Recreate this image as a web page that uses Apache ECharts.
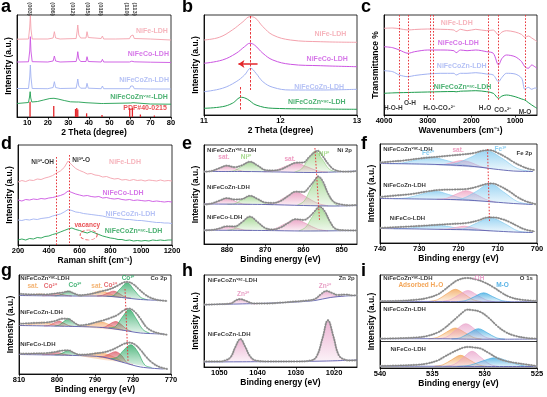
<!DOCTYPE html>
<html>
<head>
<meta charset="utf-8">
<script src="https://cdn.jsdelivr.net/npm/echarts@6/dist/echarts.min.js"></script>
<style>html,body{margin:0;padding:0;background:#fff}#main{width:547px;height:397px}</style>
</head>
<body>
<div id="main"></div>
<script>
var FONT = '"Liberation Sans", Arial, sans-serif';
var PINK = '#f4a2ad', MAG = '#cc55e2', BLUE = '#a2b2f2', GREEN = '#1f9e4f', RED = '#e3262b';

// a: XRD
var xrdNiFe = [[5,77.8],[10.6,78],[11.2,90],[11.5,102],[11.8,88],[12.4,78],[20,78],[22.6,79],[23.2,85.3],[23.8,79],[26,78],[33.8,78.5],[34.3,86],[34.6,92],[35.1,82],[36,79],[38.6,79],[39.1,85.3],[39.7,79.5],[46,78.5],[46.6,81],[47.2,78],[53,78],[59.8,78.3],[60.4,81],[60.9,79],[61.5,82],[62.1,78.5],[70,78],[80,77]];
var xrdNiFeCo = [[5,55],[10.6,55.2],[11.2,66],[11.5,80.3],[11.8,66],[12.4,55.3],[20,55],[22.6,56],[23.2,61],[23.8,56],[26,55],[33.8,55.5],[34.3,60],[34.6,65.3],[35.1,58],[36,55.5],[38.6,55.5],[39.1,60.3],[39.7,55.5],[46,55],[46.6,57.7],[47.2,55],[59.8,55],[60.4,57],[60.9,55.8],[61.5,57],[62.1,55.2],[70,54.8],[80,54.5]];
var xrdNiFeCoZn = [[5,28.5],[10.6,28.5],[11.2,40],[11.5,52],[11.8,40],[12.4,28.5],[20,28.3],[22.6,29.5],[23.2,35.3],[23.8,29.5],[26,28.5],[33.8,28.8],[34.3,34],[34.6,38],[35.1,31],[36,28.8],[38.6,28.8],[39.1,33.7],[39.7,28.8],[46,28.3],[46.6,31],[47.2,28.3],[59.8,28.3],[60.4,31],[60.9,29.3],[61.5,31],[62.1,28.3],[70,28],[80,28]];
var xrdVac = [[5,13.5],[10.6,14.5],[11.1,20],[11.4,25.3],[11.7,19],[12.2,15],[15,15.5],[18,17],[21,18.5],[23,18.7],[25,18],[28,16.5],[31,15.2],[33.8,15],[34.4,17],[35,15],[38.6,14.3],[39.1,15.2],[39.6,14.2],[46,13.5],[46.6,14.3],[47.2,13.5],[60.4,14],[61.5,14.3],[70,13],[80,12.8]];
var pdfPos = [11.35, 22.9, 33.5, 34.1, 34.6, 38.9, 46.4, 59.9, 61.2, 65.1, 71.9];
var pdfHeight = [15.3, 11, 8, 9, 7.5, 3.7, 2, 9, 9, 2.5, 1.5];
var millerPos = [11.3, 22.4, 32, 39.3, 45.5, 58.2, 62.2];
var millerText = ['(003)', '(006)', '(012)', '(015)', '(018)', '(110)', '(113)'];

// b: (003) peak zoom
var zoomNiFe = [[11.0,75],[11.2,77.7],[11.37,85],[11.51,93.3],[11.6,98.3],[11.66,97.5],[11.77,88.3],[11.9,80],[12.13,75],[12.52,73.3],[13.0,72.7]];
var zoomNiFeCo = [[11.0,51.7],[11.24,55],[11.42,61.7],[11.53,68.3],[11.6,71.7],[11.66,70],[11.77,61.7],[11.9,55],[12.13,50.7],[12.52,49.3],[13.0,48.3]];
var zoomNiFeCoZn = [[11.0,23.3],[11.24,26.7],[11.42,33.3],[11.53,40],[11.61,46.7],[11.68,41.7],[11.77,33.3],[11.9,27.7],[12.13,25],[12.52,25],[13.0,25.7]];
var zoomVac = [[11.0,6.7],[11.24,8.3],[11.37,11.7],[11.49,17.7],[11.57,15.7],[11.68,10],[11.9,6.7],[12.52,6],[13.0,5.7]];

// c: FTIR
var ftirWn = [4000,3800,3650,3450,3300,3000,2700,2400,2350,2250,2100,1900,1650,1500,1380,1300,1200,1000,850,780,700,620,550,500];
var ftirNiFe = [86.7,87,86.3,85,85.5,86,85.7,85,83.3,85.7,84.3,85.7,84.3,85,80,83,84.3,83,80.5,77.7,79,77,75,73.3];
var ftirNiFeCo = [68.3,67.3,65,61.7,63.3,65,65,64.3,62.3,65,64.3,65,63.3,61.7,50,56.7,60,58.3,53.3,48.3,46.7,50,48.3,46.7];
var ftirNiFeCoZn = [44.3,43.3,40,38.3,39.5,41,41.7,41.7,40,41.7,41.7,42.3,41,40,33.3,37.7,41.7,41,36.7,25.7,27.7,25.7,27,26.7];
var ftirVac = [21.7,22.1,22.3,22.5,22.7,23,23.3,23.5,23.2,23.8,24,24.3,23.3,21.7,16.7,19,20,18.3,16,15,12.5,10,8,6.7];
var ftirBands = [3650, 3440, 2940, 2880, 1620, 1390, 770];

// d: Raman
var ramanShift = [200,225,250,275,300,325,350,375,400,425,450,475,500,525,550,575,600,625,650,675,700,725,750,775,800,825,850,875,900,925,950,975,1000,1025,1050,1075,1100,1125,1150,1175,1200];
var ramanNiFe = [63,64.5,63.5,65,64.5,66,65.5,67,68,69.5,72,74,77.5,84,80,76.5,74.5,73,71,71.5,70,69.5,68,68.5,67,66,66.5,65,65.5,64.5,65.5,64.5,65,64,65,64.5,64,65,64,64.5,64];
var ramanNiFeCo = [45,44,45.5,45,46,45.5,46.5,46,47,47.5,48.5,49.5,51,54,52.5,51,50,49,49.5,48.5,48,48.5,47,47.5,46.5,46,46.5,45.5,45,45.5,44.5,45,44.5,44,44.5,43.5,44,43.5,43,43.5,43];
var ramanNiFeCoZn = [25,24.5,25.5,25,26,25.5,26.5,27,27.5,29,30,31,33,35.5,34.5,33,32.5,31.5,31,30.5,30,29.5,29,28,27.5,27,26.5,26,25.5,25.5,25,24.5,24.5,24,23.5,23,22.5,22.5,22,22,21.5];
var ramanVac = [5,6,5,6.5,6,7.5,7,8.5,9,10.5,11.5,13,14.5,16,17,15.5,14.5,13,12,13.5,12,10.5,9,8,7,6.5,5.5,5.5,4.5,5,4,4.5,4,4.5,4,5,4.5,5,4.5,5,5];

// e: Ni 2p
var eVacEnv = [[886,72.3],[884,73],[882,75.8],[880,78.3],[878,76.8],[876,78.8],[874,82.2],[872,78.5],[870,74],[868,73.5],[866,74.5],[864,78],[862,81.2],[860,81.5],[858.5,87],[857,92],[856.3,93.2],[855,88],[853.5,80],[852,74.5],[850,72.5],[848,72.3],[846,73]];
var eVacBg = [[886,72.5],[876,72.5],[866,72],[858,71.5],[852,72],[846,73]];
var eVacSat1 = [[886,72.5],[884,72.8],[882,75.6],[880,78],[878,75.6],[876,72.8],[874,72.4]];
var eVacNiA = [[880,72.4],[878,73.4],[876,78],[874,82],[872,78],[870,73.4],[868,72.2]];
var eVacSat2 = [[870.4,72.2],[867.6,73.3],[864.8,77.4],[862,81],[859.2,77.4],[856.4,73.3],[853.6,71.8]];
var eVacNiB = [[862.3,72],[860.5,75],[858.7,84.8],[856.9,93],[855.1,84.8],[853.3,75],[851.5,72.1]];
var eZnEnv = [[886,39.5],[884,40.5],[882,43.3],[880,45.8],[878,44.5],[876,45],[874,48.2],[872,45],[870,41.5],[868,41],[866,43],[864,48],[862,52.3],[860,52],[858.5,57],[857,64],[856.2,67.5],[855,63],[853.5,50],[852,42],[850,39.5],[848,38.7],[846,39]];
var eZnBg = [[886,40],[870,39.5],[860,38.5],[852,38],[846,38.5]];
var eZnSat1 = [[886,40],[884,40.2],[882,43],[880,45.5],[878,43],[876,40.1],[874,39.7]];
var eZnNiA = [[880,39.8],[878,40.3],[876,44.5],[874,48],[872,44.5],[870,40.3],[868,39.3]];
var eZnSat2 = [[870.4,39.5],[867.6,40.8],[864.8,46.8],[862,52],[859.2,46.8],[856.4,40.8],[853.6,38.2]];
var eZnNiB = [[861.6,38.8],[859.8,43],[858,56],[856.2,67],[854.4,56],[852.6,43],[850.8,38]];
var eCoEnv = [[886,13.7],[884,14],[882,15.5],[880,17.7],[878,17.5],[876,22],[874,27.3],[872,22],[870,16],[868,14.5],[866,16.5],[864,21],[862,24.8],[860,24],[858.5,27],[857,33],[855.8,37.3],[854.5,33],[853,22],[851.5,15],[849,13.7],[846,13.5]];
var eCoBg = [[886,13.8],[870,13.5],[860,13],[852,13.2],[846,13.5]];
var eCoSat1 = [[885.5,13.8],[883.5,14],[881.5,15.9],[879.5,17.5],[877.5,15.9],[875.5,14],[873.5,13.7]];
var eCoNiA = [[880,13.7],[878,15.4],[876,21.6],[874,27],[872,21.6],[870,15.4],[868,13.5]];
var eCoSat2 = [[870.4,13.5],[867.6,15],[864.8,20.2],[862,24.5],[859.2,20.2],[856.4,15],[853.6,13.1]];
var eCoNiB = [[861.2,13.1],[859.4,16.8],[857.6,27.8],[855.8,37],[854,27.8],[852.2,16.8],[850.4,13.2]];

// f: Fe 2p
var fVacEnv = [[740,80.5],[737,81.5],[734,82.5],[730,84.5],[726,86],[722,87.5],[719,88.5],[716,90],[713.5,92.5],[712,92.8],[710,90],[708,86],[706,81],[704,77],[702,74],[700.5,73]];
var fVacBg = [[740,79.5],[730,79],[722,78],[716,76.5],[711,74],[706,72],[701,71.5]];
var fVacFeA = [[737.5,79.3],[734,80.2],[730.5,83.4],[727,86],[723.5,83],[720,79.3],[716.5,76.7]];
var fVacSat = [[725.6,78.3],[723.4,78.7],[721.2,81],[719,82.5],[716.8,80.5],[714.6,76.8],[712.4,74.8]];
var fVacFeB = [[725,78.3],[721,79.2],[717,85.5],[713,92.5],[709,85],[705,74.5],[701,71.5]];
var fZnEnv = [[740,46],[736,47.5],[732,49],[728,51.5],[725,53],[721,53.5],[718,54],[715.5,56],[713,59],[711.5,59.5],[709.5,57],[707,51.5],[705,46],[703,42],[701,39.5],[700.3,38.8]];
var fZnBg = [[740,44.5],[730,44],[722,43.5],[716,42.5],[711,41],[706,39.5],[701,38.5]];
var fZnFeA = [[736.5,44.3],[733,45.2],[729.5,48.8],[726,52],[722.5,48.5],[719,44.5],[715.5,42.5]];
var fZnSat = [[725.5,43.7],[723,44.7],[720.5,49],[718,52.3],[715.5,48.5],[713,43.5],[710.5,40.8]];
var fZnFeB = [[722.5,43.5],[719,44.5],[715.5,51.5],[712,59.5],[708.5,51],[705,41.5],[701.5,38.6]];
var fCoEnv = [[740,15],[735,16],[730,17],[726,18],[722,19],[718,20],[715,22.5],[712.5,25.5],[711,25.5],[709,24],[707,21],[705,17],[703,13.5],[700.5,11.5]];
var fCoBg = [[740,14.5],[730,14],[722,13.5],[716,13],[711,12],[706,11],[701,10.5]];
var fCoFeA = [[736.5,14.3],[733,14.7],[729.5,16.5],[726,18],[722.5,16.4],[719,14],[715.5,13]];
var fCoSat = [[725,13.7],[722.8,14],[720.6,15.6],[718.5,16.8],[716.4,15.3],[714.2,13.2],[712,12.2]];
var fCoFeB = [[722.3,13.5],[718.8,14.2],[715.3,20],[711.8,25.2],[708.3,19.5],[704.8,12],[701.3,10.5]];

// g: Co 2p
var gVacEnv = [[809.5,80],[806,79.5],[803,79.5],[800.5,80.5],[798.5,81.5],[797,82.5],[795.5,80.5],[794,78.8],[792,79.5],[790,81],[788,83],[786,85],[784,88.5],[782.5,91.5],[781.5,92],[780,90],[778.5,85],[777,80],[775.5,76.5],[773.5,74],[771,73]];
var gVacBg = [[810,78.5],[795,78],[788,78],[783,76.5],[778,74.5],[772,73.5]];
var gVacSatA = [[809,78.5],[807.5,78.6],[806,79.4],[804.5,80.1],[803,79.4],[801.5,78.5],[800,78.2]];
var gVacCo2A = [[803.9,78.3],[802.6,78.5],[801.3,79.7],[800,80.6],[798.7,79.7],[797.4,78.5],[796.1,78]];
var gVacCo3A = [[800.6,78.2],[799.4,78.8],[798.2,81],[797,83],[795.8,81],[794.6,78.8],[793.4,78]];
var gVacSatB = [[794.5,78],[792.5,78.7],[790.5,81],[788.5,83],[786.5,80.8],[784.5,78],[782.5,76.3]];
var gVacCo2B = [[789.5,78],[788,78.8],[786.5,81.2],[785,82.8],[783.5,80.2],[782,76.7],[780.5,76]];
var gVacCo3B = [[786.9,77.8],[785.1,78.5],[783.3,85.5],[781.5,91.3],[779.7,84],[777.9,76.5],[776.1,74.2]];
var gZnEnv = [[809.5,50.3],[806,51],[803,51.5],[800.5,53],[798.5,55.3],[797,55],[795.5,51.5],[794,48.7],[792,49.5],[790,51.5],[788,53.5],[786,56],[784,59.3],[782.5,63.5],[781,65.3],[779.5,62],[778,55],[776.5,47],[775,43],[773,40.5],[771,39.3]];
var gZnBg = [[810,48.5],[795,47.5],[788,46.5],[783,44],[778,41],[772,40]];
var gZnSatA = [[810,48.5],[808,49],[806,50.6],[804,51.8],[802,50.5],[800,48.7],[798,47.9]];
var gZnCo2A = [[803.4,48.1],[802.1,48.6],[800.8,51],[799.5,52.8],[798.2,50.8],[796.9,48.4],[795.6,47.6]];
var gZnCo3A = [[800.6,48],[799.4,49],[798.2,52.5],[797,55.5],[795.8,52.3],[794.6,48.9],[793.4,47.4]];
var gZnSatB = [[794.5,47.5],[792.5,48],[790.5,50.5],[788.5,52.3],[786.5,49.8],[784.5,46.5],[782.5,43.6]];
var gZnCo2B = [[788.7,46.5],[787.3,47.2],[785.9,50.5],[784.5,52.5],[783.1,49.5],[781.7,44.8],[780.3,42.5]];
var gZnCo3B = [[786.4,46.2],[784.6,47.5],[782.8,57],[781,64.5],[779.2,55.5],[777.4,44.5],[775.6,40.8]];
var gCoEnv = [[809.5,20.3],[806,20.5],[803,20.8],[800.5,22],[798.5,23.5],[797,23.7],[795.5,21],[794,19.3],[792,19.5],[790,20.5],[788,21.5],[786,23.5],[784,27],[782.5,30],[781,31.3],[779.5,29.5],[778,24],[776.5,17],[775,11.5],[773,7],[771,5]];
var gCoBg = [[810,19.5],[795,18.5],[788,17],[783,12],[778,7],[772,5]];
var gCoSatA = [[810,19.5],[808,19.6],[806,20.2],[804,20.6],[802,20.1],[800,19.3],[798,18.9]];
var gCoCo2A = [[803.9,19.3],[802.6,19.5],[801.3,20.7],[800,21.6],[798.7,20.5],[797.4,19.2],[796.1,18.6]];
var gCoCo3A = [[800.6,19.1],[799.4,19.6],[798.2,21.7],[797,23.5],[795.8,21.6],[794.6,19.4],[793.4,18.4]];
var gCoSatB = [[794.5,18.4],[792.5,19],[790.5,20.5],[788.5,21.3],[786.5,19.3],[784.5,16],[782.5,11.5]];
var gCoCo2B = [[789,17.2],[787.5,17.8],[786,20.5],[784.5,22.3],[783,18.5],[781.5,11],[780,9.5]];
var gCoCo3B = [[785.9,15.3],[784.1,17],[782.3,24.5],[780.5,29.3],[778.7,22],[776.9,9],[775.1,6.5]];

// h: Zn 2p
var hVacEnv = [[1054,62.3],[1050,62.8],[1047,63.5],[1045.5,67],[1044.5,67.8],[1043,66],[1041,63.5],[1038,63.5],[1034,64.3],[1030,65.5],[1027,66.5],[1025,68],[1023.5,72.5],[1022,76],[1020.5,74],[1019,72],[1017,72.5],[1015,71.5],[1014,72]];
var hVacBg = [[1054,62.3],[1040,63.5],[1030,65],[1025,66.5],[1021,69.5],[1017,71],[1014,71.5]];
var hVacZnA = [[1049,62.7],[1047.5,63.4],[1046,65.8],[1044.5,68],[1043,65.8],[1041.5,63.3],[1040,63.2]];
var hVacZnB = [[1026.5,66.3],[1025,67.3],[1023.5,71.5],[1022,75.5],[1020.5,72.5],[1019,70.5],[1017.5,70.8]];
var hZnEnv = [[1054,5.5],[1050,5.5],[1048.5,6.5],[1047,10],[1045.8,20],[1044.5,28],[1043.2,20],[1042,11],[1040.5,6.5],[1037,5.5],[1030,5.5],[1026,6.5],[1024.5,11],[1023,29],[1021.6,46.8],[1020.2,31],[1018.8,12],[1017.3,7.5],[1015.5,6.5],[1014,7]];
var hZnBg = [[1054,5],[1040,5.3],[1030,5.5],[1022,6],[1014,7]];
var hZnZnA = [[1048.7,5.2],[1047.3,8.2],[1045.9,18.7],[1044.5,27.7],[1043.1,18.7],[1041.7,8.2],[1040.3,5.3]];
var hZnZnB = [[1025.7,5.8],[1024.3,11.5],[1022.9,30.5],[1021.5,46.5],[1020.1,30.5],[1018.7,11.5],[1017.3,6]];

// i: O 1s
var iVacEnv = [[540,66.8],[538,67.2],[536.5,68.3],[535.5,70],[534.5,73.5],[533.9,77.7],[533.2,83.5],[532.6,87.7],[531.7,90],[530.8,88.5],[530.1,86],[529.2,81],[528.4,75.5],[527.6,71],[526.5,68.3],[525,67]];
var iVacBg = [[540,66.7],[534,66.5],[531,66.2],[528,66.2],[525,66.4]];
var iVacH2O = [[535.35,66.5],[534.5,68.3],[533.65,74],[532.8,78.7],[531.95,74],[531.1,68.3],[530.25,66.2]];
var iVacOH = [[534.15,66.5],[533.3,68.2],[532.45,73.2],[531.6,77.5],[530.75,73.2],[529.9,68.2],[529.05,66.2]];
var iVacMO = [[532.65,66.4],[531.8,67.5],[530.95,71.5],[530.1,75.2],[529.25,71.5],[528.4,67.5],[527.55,66.3]];
var iZnEnv = [[540,29.3],[538,29.8],[536.5,30.5],[535.5,32],[534.5,35.5],[533.9,39.3],[533.2,45.5],[532.6,51],[532,56.5],[531.7,58.3],[531.2,58],[530.4,56],[529.6,50],[528.8,42],[528,36],[527.2,32.5],[526,30],[525,29.3]];
var iZnBg = [[540,29.3],[534,29.2],[531,28.8],[528,28.8],[525,29]];
var iZnH2O = [[535.35,29.2],[534.5,30.7],[533.65,35.8],[532.8,40],[531.95,35.8],[531.1,30.7],[530.25,28.8]];
var iZnOH = [[534.5,29.2],[533.6,31.2],[532.7,38.5],[531.8,44.3],[530.9,38.5],[530,31.2],[529.1,28.8]];
var iZnMO = [[533.15,29],[532.3,30.3],[531.45,35.2],[530.6,39.3],[529.75,35.2],[528.9,30.3],[528.05,28.8]];
var iCoEnv = [[540,2],[538,2.5],[536.5,3.2],[535.5,4.5],[534.5,7.5],[533.9,11],[533.2,15],[532.6,18],[532,20.5],[531.5,21],[531,20.5],[530.4,19.5],[529.6,15],[528.8,10],[528,7],[527,5],[526,3.5],[525,2]];
var iCoBg = [[540,1.8],[534,1.7],[530,1.5],[525,1.5]];
var iCoH2O = [[534.85,1.7],[534,3.2],[533.15,8.2],[532.3,12.7],[531.45,8.2],[530.6,3.2],[529.75,1.6]];
var iCoOH = [[533.75,1.7],[532.9,3.7],[532.05,10.5],[531.2,16.7],[530.35,10.5],[529.5,3.7],[528.65,1.5]];
var iCoMO = [[532.6,1.6],[531.4,2.8],[530.2,7],[529,10.3],[527.8,7],[526.6,2.8],[525.4,1.5]];

function rgba(hex, a) {
  var n = parseInt(hex.slice(1), 16);
  return 'rgba(' + (n >> 16) + ',' + ((n >> 8) & 255) + ',' + (n & 255) + ',' + a + ')';
}
function zipXY(xs, ys) { return xs.map(function (x, i) { return [x, ys[i]]; }); }

function line(gi, data, color, width, smooth, z) {
  return {type: 'line', xAxisIndex: gi, yAxisIndex: gi, data: data, symbol: 'none', silent: true,
    smooth: smooth || false, z: z || 3, lineStyle: {color: color, width: width || 1}};
}
// fitted component: filled area closed on its own end points
function comp(gi, pts, color) {
  var grad = new echarts.graphic.LinearGradient(0, 0, 0, 1, [
    {offset: 0, color: rgba(color, 0.75)}, {offset: 1, color: rgba(color, 0.12)}]);
  return {type: 'custom', xAxisIndex: gi, yAxisIndex: gi, silent: true, z: 2, clip: true,
    data: [pts[0]],
    renderItem: function (params, api) {
      var p = pts.map(function (d) { return api.coord(d); });
      return {type: 'group', children: [
        {type: 'polygon', shape: {points: p, smooth: 0.35}, style: {fill: grad}},
        {type: 'polyline', shape: {points: p, smooth: 0.35}, style: {stroke: color, lineWidth: 0.6, fill: null}}
      ]};
    }};
}
function stack(gi, env, bg, comps) {
  var out = comps.map(function (c) { return comp(gi, c[0], c[1]); });
  out.push(line(gi, bg, '#5b5fae', 0.9, 0.3, 3));
  out.push({type: 'line', xAxisIndex: gi, yAxisIndex: gi, data: env, symbol: 'none', silent: true, smooth: 0.4, z: 4,
    lineStyle: {color: '#a9a9a9', width: 2.3, type: [0.1, 2.5], cap: 'round'}});
  out.push(line(gi, env, '#6f6f6f', 0.7, 0.4, 5));
  return out;
}
function texts(gi, items, marks) {
  var s = {type: 'scatter', xAxisIndex: gi, yAxisIndex: gi, symbolSize: 0, silent: true, z: 10, clip: false,
    data: items.map(function (t) {
      return {value: [t[0], t[1]], label: {show: true, position: 'inside', formatter: t[2], color: t[3],
        align: t[4] || 'center', verticalAlign: 'middle', fontSize: t[5] || 7, fontWeight: 'bold', fontFamily: FONT}};
    })};
  if (marks) s.markLine = marks;
  return s;
}
function vlines(list, style) {
  var ls = Object.assign({color: '#e8383d', width: 1, type: [1.6, 1.6]}, style || {});
  return {silent: true, symbol: 'none', label: {show: false}, animation: false, lineStyle: ls,
    data: list.map(function (l) { return [{coord: [l[0], l[1]], lineStyle: ls}, {coord: [l[2], l[3]]}]; })};
}

var BOX = {show: true, borderColor: '#000', borderWidth: 0.8};
var grids = [
  {left: 17, top: 15, width: 154, height: 102},
  {left: 204, top: 15, width: 153, height: 100},
  {left: 384, top: 15, width: 153, height: 100},
  {left: 18, top: 145, width: 154, height: 100},
  {left: 204, top: 145, width: 153, height: 99},
  {left: 380, top: 144, width: 157, height: 99},
  {left: 19, top: 275, width: 152, height: 99},
  {left: 204, top: 275, width: 153, height: 92},
  {left: 380, top: 275, width: 157, height: 93}
].map(function (g) { return Object.assign(g, BOX); });

function xAx(gi, min, max, name, o) {
  o = o || {};
  var lab = {fontFamily: FONT, fontWeight: 'bold', fontSize: 7.5, color: '#000', margin: 2,
    formatter: function (v) { return String(v); }};
  var tick = {length: 2.5, lineStyle: {color: '#000', width: 0.8}};
  if (o.ticks) { lab.customValues = o.ticks; tick.customValues = o.ticks; }
  var ax = {type: 'value', gridIndex: gi, min: min, max: max, inverse: !!o.inverse,
    name: name, nameLocation: 'middle', nameGap: o.gap || 9,
    nameTextStyle: {fontFamily: FONT, fontWeight: 'bold', fontSize: 8.5, color: '#000'},
    axisLine: {onZero: false, lineStyle: {color: '#000', width: 0.9}},
    axisTick: tick, axisLabel: lab, splitLine: {show: false}};
  if (o.interval) ax.interval = o.interval;
  return ax;
}
function yAx(gi, max, name) {
  return {type: 'value', gridIndex: gi, min: 0, max: max, name: name, nameLocation: 'middle', nameGap: 4,
    nameTextStyle: {fontFamily: FONT, fontWeight: 'bold', fontSize: 8.5, color: '#000'},
    axisLine: {show: true, onZero: false, lineStyle: {color: '#000', width: 0.9}},
    axisTick: {show: false}, axisLabel: {show: false}, splitLine: {show: false}};
}

var BE = 'Binding energy (eV)', INT = 'Intensity (a.u.)';
var xAxes = [
  xAx(0, 5, 80, '2 Theta (degree)', {ticks: [10, 20, 30, 40, 50, 60, 70, 80]}),
  xAx(1, 11, 13, '2 Theta (degree)', {interval: 1}),
  xAx(2, 500, 4000, 'Wavenumbers (cm⁻¹)', {inverse: true, ticks: [1000, 2000, 3000, 4000]}),
  xAx(3, 200, 1200, 'Raman shift (cm⁻¹)', {interval: 200}),
  xAx(4, 846, 886, BE, {inverse: true, ticks: [850, 860, 870, 880]}),
  xAx(5, 700, 740, BE, {inverse: true, interval: 10}),
  xAx(6, 770, 810, BE, {inverse: true, interval: 10}),
  xAx(7, 1014, 1054, BE, {inverse: true, ticks: [1020, 1030, 1040, 1050]}),
  xAx(8, 525, 540, BE, {inverse: true, interval: 5})
];
var yAxes = [yAx(0, 102, INT), yAx(1, 100, INT), yAx(2, 100, 'Transmittance %'), yAx(3, 100, INT),
  yAx(4, 99, INT), yAx(5, 99, INT), yAx(6, 99, INT), yAx(7, 92, INT), yAx(8, 93, INT)];

var VAC = 'NiFeCoZnᵛᵃᶜ-LDH';
var series = [];

// a
series.push(line(0, xrdNiFe, PINK, 0.9), line(0, xrdNiFeCo, MAG, 0.9), line(0, xrdNiFeCoZn, BLUE, 0.9), line(0, xrdVac, GREEN, 0.9));
series.push({type: 'bar', xAxisIndex: 0, yAxisIndex: 0, data: zipXY(pdfPos, pdfHeight), barWidth: 1.3, silent: true,
  itemStyle: {color: RED}});
var aText = texts(0, millerPos.map(function (p, i) { return [p, 108, millerText[i], '#111', 'center', 5.8]; })
  .concat([[78.5, 86, 'NiFe-LDH', PINK, 'right'], [79, 62.5, 'NiFeCo-LDH', MAG, 'right'],
    [79, 37, 'NiFeCoZn-LDH', BLUE, 'right'], [78.5, 20.3, VAC, GREEN, 'right'], [78, 9, 'PDF#40-0215', RED, 'right']]));
aText.data.slice(0, millerPos.length).forEach(function (d) { d.label.rotate = -90; });
series.push(aText);

// b
series.push(line(1, zoomNiFe, PINK, 1, 0.4), line(1, zoomNiFeCo, MAG, 1, 0.4), line(1, zoomNiFeCoZn, BLUE, 1, 0.4), line(1, zoomVac, GREEN, 1, 0.4));
var bText = texts(1, [[12.86, 80.7, 'NiFe-LDH', PINK, 'right'], [12.88, 55.7, 'NiFeCo-LDH', MAG, 'right'],
  [12.83, 27.7, 'NiFeCoZn-LDH', BLUE, 'right'], [12.85, 13.3, VAC, GREEN, 'right']]);
bText.markLine = vlines([[11.6, 99, 11.6, 25], [11.47, 28, 11.47, 4]], {type: [2.5, 1.5]});
series.push(bText);
series.push({type: 'scatter', xAxisIndex: 1, yAxisIndex: 1, symbolSize: 0, data: [], silent: true,
  markLine: {silent: true, animation: false, label: {show: false}, symbol: ['none', 'arrow'], symbolSize: 6,
    lineStyle: {color: RED, width: 1.5, type: 'solid'},
    data: [[{coord: [11.7, 51]}, {coord: [11.45, 51]}]]}});

// c
series.push(line(2, zipXY(ftirWn, ftirNiFe), PINK, 1, 0.3), line(2, zipXY(ftirWn, ftirNiFeCo), MAG, 1, 0.3),
  line(2, zipXY(ftirWn, ftirNiFeCoZn), BLUE, 1, 0.3), line(2, zipXY(ftirWn, ftirVac), GREEN, 1, 0.3));
var cText = texts(2, [[2336, 91.7, 'NiFe-LDH', PINK], [2300, 72.3, 'NiFeCo-LDH', MAG], [2222, 49, 'NiFeCoZn-LDH', BLUE],
  [2204, 27.7, VAC, GREEN], [3787, 6.7, 'H-O-H', '#000', 'center', 6.5], [3405, 11.7, 'O-H', '#000', 'center', 6.5],
  [2742, 6.7, 'H₂O-CO₃²⁻', '#000', 'center', 6.5], [1689, 6.7, 'H₂O', '#000', 'center', 6.5],
  [1284, 5, 'CO₃²⁻', '#000', 'center', 6.5], [774, 2.3, 'M-O', '#000', 'center', 6.5]]);
cText.markLine = vlines(ftirBands.map(function (b) { return [b, 100, b, 15]; }));
series.push(cText);

// d
series.push(line(3, zipXY(ramanShift, ramanNiFe), PINK, 0.9), line(3, zipXY(ramanShift, ramanNiFeCo), MAG, 0.9),
  line(3, zipXY(ramanShift, ramanNiFeCoZn), BLUE, 0.9), line(3, zipXY(ramanShift, ramanVac), GREEN, 0.9));
var dText = texts(3, [[360, 83, 'Ni³⁺-OH', '#000', 'center', 6.5], [610, 85, 'Ni³⁺-O', '#000', 'center', 6.5],
  [895, 83, 'NiFe-LDH', PINK], [882, 52, 'NiFeCo-LDH', MAG], [930, 31, 'NiFeCoZn-LDH', BLUE],
  [950, 14, VAC, GREEN], [650, 20, 'vacancy', RED, 'center', 6.5]]);
dText.markLine = vlines([[450, 88, 450, 0], [530, 90, 530, 0]]);
series.push(dText);
series.push({type: 'scatter', xAxisIndex: 3, yAxisIndex: 3, silent: true, z: 9, data: [[659, 10]], symbol: 'circle',
  symbolSize: [17, 10], itemStyle: {color: 'rgba(0,0,0,0)', borderColor: RED, borderType: 'dashed', borderWidth: 0.8}});

// e
var NIS = '#e58bb5', NIG = '#8fcf7a';
series = series.concat(stack(4, eVacEnv, eVacBg, [[eVacSat1, NIS], [eVacNiA, NIG], [eVacSat2, NIS], [eVacNiB, NIG]]));
series = series.concat(stack(4, eZnEnv, eZnBg, [[eZnSat1, NIS], [eZnNiA, NIG], [eZnSat2, NIS], [eZnNiB, NIG]]));
series = series.concat(stack(4, eCoEnv, eCoBg, [[eCoSat1, NIS], [eCoNiA, NIG], [eCoSat2, NIS], [eCoNiB, NIG]]));
var eText = texts(4, [[885.2, 94, VAC, '#000', 'left', 6], [880.8, 87, 'sat.', '#ea7fb0', 'center', 6.5],
  [875, 87, 'Ni²⁺', '#8fcf6f', 'center', 6.5], [863.5, 84.5, 'sat.', '#ea7fb0', 'center', 6.5],
  [854.6, 89.5, 'Ni²⁺', '#8fcf6f', 'center', 6.5], [847.3, 94, 'Ni 2p', '#000', 'right', 6],
  [885.2, 57, 'NiFeCoZn-LDH', '#000', 'left', 6], [885.2, 27, 'NiFeCo-LDH', '#000', 'left', 6]]);
eText.markLine = vlines([[857, 96, 855.8, 24]]);
series.push(eText);

// f
var FEB = '#7cc7ef', FES = '#ef9bbd';
series = series.concat(stack(5, fVacEnv, fVacBg, [[fVacFeA, FEB], [fVacSat, FES], [fVacFeB, FEB]]));
series = series.concat(stack(5, fZnEnv, fZnBg, [[fZnFeA, FEB], [fZnSat, FES], [fZnFeB, FEB]]));
series = series.concat(stack(5, fCoEnv, fCoBg, [[fCoFeA, FEB], [fCoSat, FES], [fCoFeB, FEB]]));
var fText = texts(5, [[739.2, 94, VAC, '#000', 'left', 6], [727.8, 90, 'Fe³⁺', '#71c4ef', 'center', 6.5],
  [720.1, 93, 'sat.', '#ea86b0', 'center', 6.5], [709.3, 93.5, 'Fe³⁺', '#71c4ef', 'center', 6.5],
  [701.2, 90, 'Fe 2p', '#000', 'right', 6], [739.2, 58, 'NiFeCoZn-LDH', '#000', 'left', 6],
  [737.5, 25, 'NiFeCo-LDH', '#000', 'left', 6]]);
fText.markLine = vlines([[712.6, 94, 712.1, 22]]);
series.push(fText);

// g
var COS = '#f3a45e', COR = '#d9505e', COG = '#1fa35a';
series = series.concat(stack(6, gVacEnv, gVacBg, [[gVacSatA, COS], [gVacCo2A, COR], [gVacCo3A, COG], [gVacSatB, COS], [gVacCo2B, COR], [gVacCo3B, COG]]));
series = series.concat(stack(6, gZnEnv, gZnBg, [[gZnSatA, COS], [gZnCo2A, COR], [gZnCo3A, COG], [gZnSatB, COS], [gZnCo2B, COR], [gZnCo3B, COG]]));
series = series.concat(stack(6, gCoEnv, gCoBg, [[gCoSatA, COS], [gCoCo2A, COR], [gCoCo3A, COG], [gCoSatB, COS], [gCoCo2B, COR], [gCoCo3B, COG]]));
var gText = texts(6, [[809.7, 96, VAC, '#000', 'left', 6], [806.3, 87.5, 'sat.', '#f0a050', 'center', 6.5],
  [801.8, 87.5, 'Co²⁺', '#e0474f', 'center', 6.5], [795.3, 88.5, 'Co³⁺', '#1ea35a', 'center', 6.5],
  [789.5, 87.5, 'sat.', '#f0a050', 'center', 6.5], [786, 88.5, 'Co²⁺', '#e0474f', 'center', 6.5],
  [781.3, 96, 'Co³⁺', '#1ea35a', 'center', 6.5], [771, 96, 'Co 2p', '#000', 'right', 6],
  [809.7, 62, 'NiFeCoZn-LDH', '#000', 'left', 6], [809.7, 30, 'NiFeCo-LDH', '#000', 'left', 6]]);
gText.markLine = vlines([[782.1, 85, 781.3, 12]]);
series.push(gText);

// h
var ZNP = '#e79cc6';
series = series.concat(stack(7, hVacEnv, hVacBg, [[hVacZnA, ZNP], [hVacZnB, ZNP]]));
series = series.concat(stack(7, hZnEnv, hZnBg, [[hZnZnA, ZNP], [hZnZnB, ZNP]]));
series.push(texts(7, [[1053, 87, VAC, '#000', 'left', 6], [1043.8, 73, 'Zn²⁺', '#e488b8', 'center', 6.5],
  [1022.4, 81, 'Zn²⁺', '#e488b8', 'center', 6.5], [1014.6, 88.5, 'Zn 2p', '#000', 'right', 6],
  [1053, 33, 'NiFeCoZn-LDH', '#000', 'left', 6]]));

// i
var OOR = '#f2a04e', OPK = '#e9a1c9', OBL = '#36a6df';
series = series.concat(stack(8, iVacEnv, iVacBg, [[iVacH2O, OOR], [iVacOH, OPK], [iVacMO, OBL]]));
series = series.concat(stack(8, iZnEnv, iZnBg, [[iZnH2O, OOR], [iZnOH, OPK], [iZnMO, OBL]]));
series = series.concat(stack(8, iCoEnv, iCoBg, [[iCoH2O, OOR], [iCoOH, OPK], [iCoMO, OBL]]));
var iText = texts(8, [[539.7, 89.5, VAC, '#000', 'left', 6], [536.1, 83, 'Adsorbed H₂O', '#f09030', 'center', 6.5],
  [530.6, 90, '-OH', '#e58ec0', 'center', 6.5], [528.3, 83, 'M-O', '#2fa0e0', 'center', 6.5],
  [525.4, 89.5, 'O 1s', '#000', 'right', 6], [539.7, 59, 'NiFeCoZn-LDH', '#000', 'left', 6],
  [539, 19, 'NiFeCo-LDH', '#000', 'left', 6]]);
iText.markLine = {silent: true, symbol: 'none', label: {show: false}, animation: false,
  lineStyle: {color: '#000', width: 0.8, type: 'solid'}, data: [{yAxis: 66}, {yAxis: 26.7}]};
series.push(iText);

function letter(t, x, y) {
  return {type: 'text', left: x, top: y, style: {text: t, fill: '#000', font: 'bold 18px ' + FONT}};
}

var chart = echarts.init(document.getElementById('main'));
chart.setOption({
  animation: false,
  backgroundColor: '#fff',
  grid: grids,
  xAxis: xAxes,
  yAxis: yAxes,
  series: series,
  graphic: [letter('a', 1, -2), letter('b', 182, -2), letter('c', 361, -2),
    letter('d', 1, 135), letter('e', 182, 135), letter('f', 361, 135),
    letter('g', 1, 262), letter('h', 182, 262), letter('i', 361, 262)]
});
</script>
</body>
</html>
